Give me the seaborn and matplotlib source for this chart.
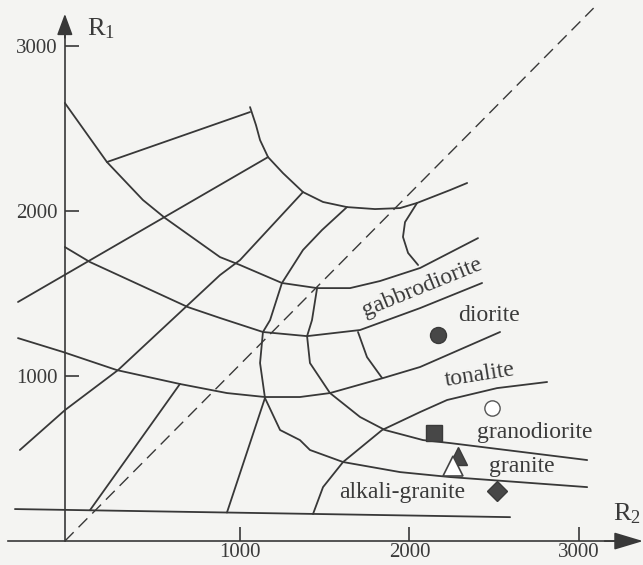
import matplotlib
matplotlib.use("Agg")
import matplotlib.pyplot as plt
import seaborn as sns

# boundary lines of the R1-R2 diagram, (R2, R1) values
arc_r2 = [1061, 1096, 1120, 1167, 1255, 1373, 1491, 1632, 1797, 1945, 2045, 2239, 2340]
arc_r1 = [2630, 2521, 2430, 2327, 2230, 2115, 2055, 2024, 2012, 2018, 2049, 2127, 2170]

hook_r2 = [2045, 1974, 1962, 1992, 2051]
hook_r1 = [2049, 1933, 1843, 1746, 1673]

gab_top_r2 = [-30, 218, 430, 560, 884, 1002, 1249, 1456, 1650, 1827, 2063, 2404]
gab_top_r1 = [2655, 2297, 2067, 1958, 1721, 1673, 1564, 1533, 1533, 1576, 1655, 1836]

gab_low_r2 = [-30, 118, 695, 884, 1137, 1397, 1709, 2063, 2428]
gab_low_r1 = [1782, 1691, 1418, 1352, 1267, 1242, 1279, 1412, 1564]

dio_low_r2 = [-306, -41, 277, 648, 925, 1149, 1355, 1532, 1845, 2063, 2534]
dio_low_r1 = [1230, 1146, 1036, 952, 897, 873, 873, 897, 988, 1055, 1267]

ton_low_r2 = [1432, 1491, 1609, 1839, 2063, 2222, 2516, 2811]
ton_low_r1 = [164, 327, 479, 673, 782, 855, 927, 964]

grd_low_r2 = [1456, 1426, 1397, 1414, 1532, 1709, 1856, 2080, 2239, 3047]
grd_low_r1 = [1533, 1339, 1242, 1079, 897, 752, 673, 612, 594, 491]

gra_low_r2 = [1632, 1485, 1373, 1249, 1179, 1137, 1120, 1149, 1238, 1355, 1414, 1609, 1945, 2239, 3047]
gra_low_r1 = [2024, 1885, 1764, 1564, 1339, 1267, 1079, 867, 673, 612, 552, 479, 418, 388, 327]

loop_r2 = [1697, 1750, 1839]
loop_r1 = [1267, 1115, 988]

ray1_r2 = [218, 1061]
ray1_r1 = [2297, 2600]
ray2_r2 = [-306, 1167]
ray2_r1 = [1449, 2327]
ray3_r2 = [-295, -29, 283, 884, 1002, 1373]
ray3_r1 = [552, 794, 1036, 1612, 1703, 2115]
ray4_r2 = [118, 648]
ray4_r1 = [187, 952]
ray5_r2 = [925, 1149]
ray5_r1 = [173, 867]

base_r2 = [-324, 2593]
base_r1 = [194, 145]

dash_r2 = [-30, 3085]
dash_r1 = [0, 3230]

# rock names
label_names = ["gabbrodiorite", "diorite", "tonalite", "granodiorite", "granite", "alkali-granite"]
label_r2 = [2074, 2469, 2416, 2740, 2664, 1956]
label_r1 = [1540, 1370, 1006, 661, 449, 297]
label_rot = [22, 0, 9, 0, 0, 0]

# plotted samples
sample_r2 = [2169, 2487, 2145, 2286, 2257, 2516]
sample_r1 = [1249, 806, 655, 515, 455, 303]

LINE = "#383838"
TXT = "#3a3a3a"
BG = "#f4f4f2"

sns.set_theme(style="white")
plt.rcParams["font.family"] = ["Liberation Serif", "DejaVu Serif"]
plt.rcParams["mathtext.fontset"] = "custom"
plt.rcParams["mathtext.rm"] = "Liberation Serif"
plt.rcParams["mathtext.it"] = "Liberation Serif:italic"

fig = plt.figure(figsize=(6.43, 5.65), dpi=100, facecolor=BG)
ax = fig.add_axes([0, 0, 1, 1])
ax.set_facecolor(BG)
ax.set_xlim(-412, 3376)
ax.set_ylim(-145, 3279)

curves = [
    (arc_r2, arc_r1), (hook_r2, hook_r1), (gab_top_r2, gab_top_r1),
    (gab_low_r2, gab_low_r1), (dio_low_r2, dio_low_r1), (ton_low_r2, ton_low_r1),
    (grd_low_r2, grd_low_r1), (gra_low_r2, gra_low_r1), (loop_r2, loop_r1),
    (ray1_r2, ray1_r1), (ray2_r2, ray2_r1), (ray3_r2, ray3_r1),
    (ray4_r2, ray4_r1), (ray5_r2, ray5_r1), (base_r2, base_r1),
]
for xs, ys in curves:
    sns.lineplot(x=xs, y=ys, sort=False, estimator=None, color=LINE, lw=1.3, ax=ax)

ax.plot(dash_r2, dash_r1, color=LINE, lw=1.0, dashes=(9, 5))

# axes with arrows
for side in ["top", "right"]:
    ax.spines[side].set_visible(False)
ax.spines["left"].set_position(("data", -30))
ax.spines["bottom"].set_position(("data", 0))
ax.spines["left"].set_bounds(0, 3150)
ax.spines["bottom"].set_bounds(-365, 3300)
for side in ["left", "bottom"]:
    ax.spines[side].set_color(LINE)
    ax.spines[side].set_linewidth(1.2)

ax.set_xticks([1000, 2000, 3000])
ax.set_yticks([1000, 2000, 3000])
ax.tick_params(bottom=True, left=True, direction="in", length=10, width=1.2,
               color=LINE, labelcolor=TXT, labelsize=15, pad=5)
ax.tick_params(axis="x", pad=1.5)

ax.annotate("", xy=(-30, 3195), xytext=(-30, 3050),
            arrowprops=dict(arrowstyle="-|>,head_length=0.65,head_width=0.24",
                            color=LINE, lw=1.2, mutation_scale=20, shrinkA=0, shrinkB=0))
ax.annotate("", xy=(3376, 0), xytext=(3150, 0),
            arrowprops=dict(arrowstyle="-|>,head_length=0.9,head_width=0.27",
                            color=LINE, lw=1.2, mutation_scale=20, shrinkA=0, shrinkB=0))

ax.text(100, 3067, r"$\mathrm{R_1}$", fontsize=19, color=TXT, ha="left", va="baseline")
ax.text(3200, 127, r"$\mathrm{R_2}$", fontsize=19, color=TXT, ha="left", va="baseline")

for name, x, y, rot in zip(label_names, label_r2, label_r1, label_rot):
    ax.text(x, y, name, fontsize=17, color=TXT, rotation=rot,
            rotation_mode="anchor", ha="center", va="center")

# samples
ax.plot(sample_r2[0], sample_r1[0], "o", ms=11.5, color="#474747", mec="#3a3a3a")
ax.plot(sample_r2[1], sample_r1[1], "o", ms=11, mfc="white", mec="#555555", mew=1.0)
ax.plot(sample_r2[2], sample_r1[2], "s", ms=12, color="#474747", mec="#3a3a3a")
ax.plot(sample_r2[3], sample_r1[3], "^", ms=13, color="#474747", mec="#3a3a3a")
ax.plot(sample_r2[4], sample_r1[4], "^", ms=14, mfc="white", mec="#444444", mew=1.2)
ax.plot(sample_r2[5], sample_r1[5], "D", ms=10.5, color="#474747", mec="#3a3a3a")

fig.savefig("out.png", dpi=100, facecolor=BG)
